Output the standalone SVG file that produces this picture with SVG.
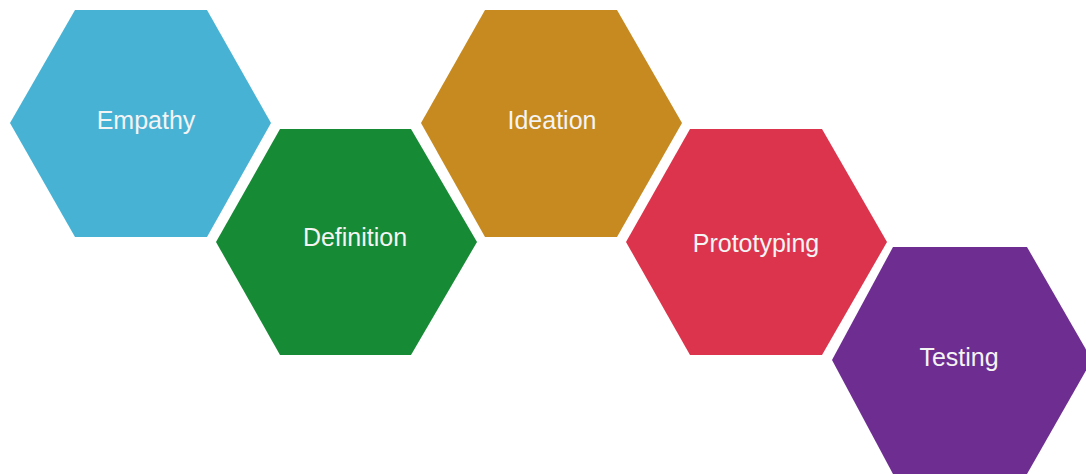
<svg xmlns="http://www.w3.org/2000/svg" width="1086" height="474" viewBox="0 0 1086 474">
<style>
.lbl{font-family:"Liberation Sans",Arial,sans-serif;font-size:25px;fill:#f4f4f4;text-anchor:middle}
</style>
<rect width="1086" height="474" fill="#ffffff"/>
<g id="empathy">
<polygon points="10,123 75,10 207,10 271,123 207,237 75,237" fill="#48b2d5"/>
<text class="lbl" x="146" y="129">Empathy</text>
</g>
<g id="definition">
<polygon points="216,242 280,129 411,129 477,242 411,355 280,355" fill="#178a35"/>
<text class="lbl" x="355" y="246">Definition</text>
</g>
<g id="ideation">
<polygon points="421,123 485,10 617,10 682,123 617,237 485,237" fill="#c68a20"/>
<text class="lbl" x="552" y="129">Ideation</text>
</g>
<g id="prototyping">
<polygon points="626,242 690,129 822,129 887,242 822,355 690,355" fill="#dc344c"/>
<text class="lbl" x="756" y="252">Prototyping</text>
</g>
<g id="testing">
<polygon points="832,360 893,247 1027,247 1092,360 1027,474 893,474" fill="#6e2d91"/>
<text class="lbl" x="959" y="366">Testing</text>
</g>
<g id="connectors"></g>
</svg>
